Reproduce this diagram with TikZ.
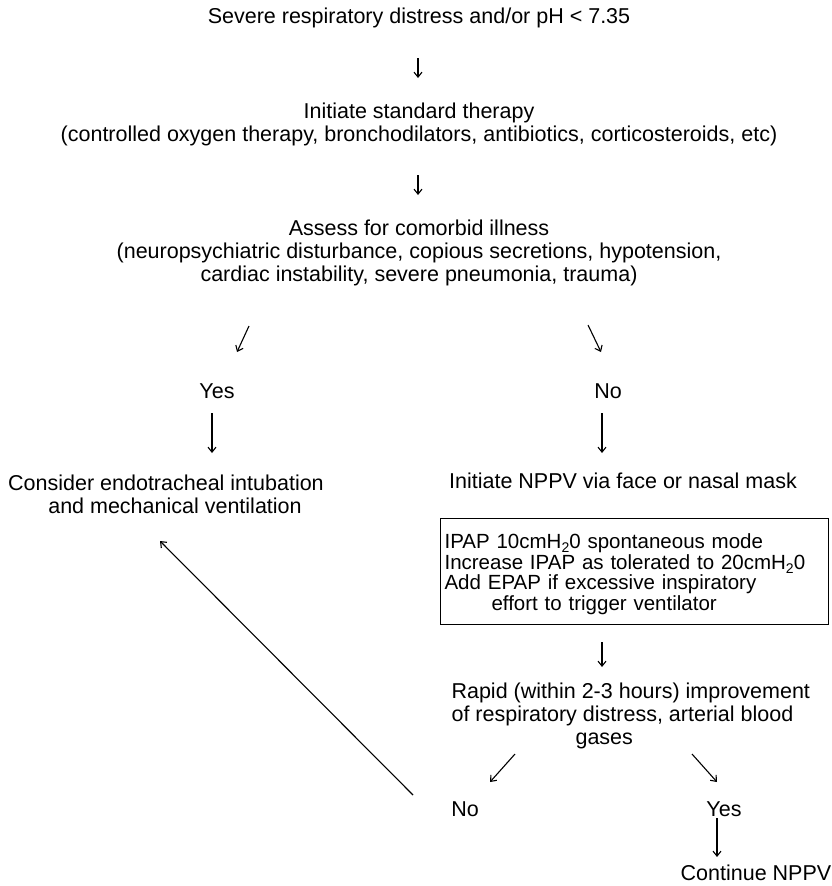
\documentclass[tikz,border=0pt]{standalone}
\usepackage{fontspec}
\setmainfont{Liberation Sans}
\usetikzlibrary{arrows.meta,calc,positioning}

\newcommand{\subtwo}{\raisebox{-0.35ex}{\fontsize{14}{14}\selectfont 2}}

\begin{document}
\begin{tikzpicture}[x=1pt,y=-1pt,->,>={Straight Barb[length=5pt,width=8pt]},
                    line width=1.1pt]
  \tikzset{every node/.style={inner sep=0pt,align=center,font=\fontsize{21.5}{23}\selectfont},
           plainbox/.style={draw,align=left,inner xsep=4pt,inner ysep=0pt,text width=380pt,
                            anchor=north west,font=\fontsize{20.5}{20.67}\selectfont}}

  \useasboundingbox (0,0) rectangle (832,886);

  \node (start)  at (419,17.5) {Severe respiratory distress and/or pH < 7.35};
  \node (std)    at (419,124)  {Initiate standard therapy\\
    (controlled oxygen therapy, bronchodilators, antibiotics, corticosteroids, etc)};
  \node (assess) at (419,253)  {Assess for comorbid illness\\
    (neuropsychiatric disturbance, copious secretions, hypotension,\\
    cardiac instability, severe pneumonia, trauma)};
  \node (yesA)   at (217,391)  {Yes};
  \node (noA)    at (608,391)  {No};
  \node (intub)  at (166,494)  {Consider endotracheal intubation\\
    \hspace*{18pt}and mechanical ventilation};
  \node (nppv)   at (623,481)  {Initiate NPPV via face or nasal mask};
  \node[plainbox] (box) at (440,518) {\rule{0pt}{30pt}IPAP 10cmH\subtwo0 spontaneous mode\\
    Increase IPAP as tolerated to 20cmH\subtwo0\\
    Add EPAP if excessive inspiratory\\
    \hspace*{47pt}effort to trigger ventilator\rule[-14pt]{0pt}{0pt}};
  \node[anchor=west,align=left] (rapid) at (451,716) {Rapid (within 2-3 hours) improvement\\
    of respiratory distress, arterial blood\\ \hspace*{124pt}gases};
  \node (noB)    at (465,809)  {No};
  \node (yesB)   at (724,809)  {Yes};
  \node (cont)   at (756,873)  {Continue NPPV};

  \draw ($(start)+(-1,40.5)$)       -- ($(std)+(-1,-46)$);
  \draw ($(std)+(-1,51)$)           -- ($(assess)+(-1,-58)$);
  \draw ($(assess)+(-170,73)$)      -- ($(yesA)+(20,-39)$);
  \draw ($(assess)+(169,72)$)       -- ($(noA)+(-7,-39)$);
  \draw ($(yesA)+(-5,22)$)          -- ($(intub)+(46,-41)$);
  \draw ($(noA)+(-6,22)$)           -- ($(nppv)+(-21,-28)$);
  \draw ($(box.north west)+(162,124)$) -- ($(rapid.west)+(151,-49)$);
  \draw ($(rapid.west)+(64,38)$)    -- ($(noB)+(25,-27)$);
  \draw ($(rapid.west)+(241,38)$)   -- ($(yesB)+(-7,-27)$);
  \draw ($(yesB)+(-7,9)$)           -- ($(cont)+(-39,-16)$);
  \draw ($(noB)+(-52,-14)$)         -- ($(intub)+(-6,47)$);
\end{tikzpicture}
\end{document}
